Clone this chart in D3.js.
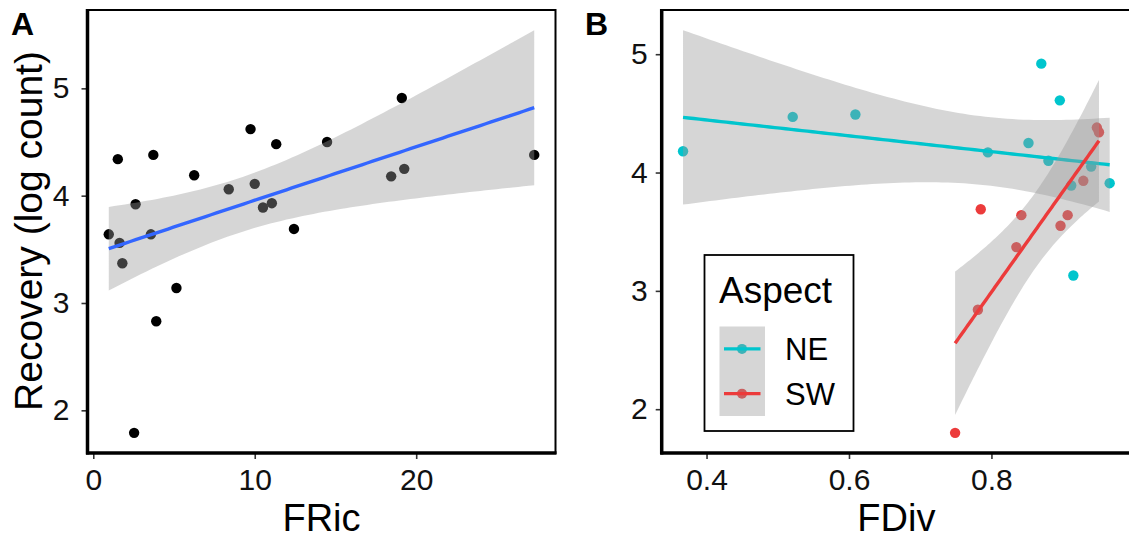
<!DOCTYPE html>
<html>
<head>
<meta charset="utf-8">
<script src="https://cdn.jsdelivr.net/npm/d3@7/dist/d3.min.js"></script>
<style>
  html, body { margin: 0; padding: 0; background: #ffffff; }
  svg { display: block; font-family: "Liberation Sans", Arial, sans-serif; }
</style>
</head>
<body>
<svg id="chart" width="1129" height="542"></svg>
<script>
// ---- data: panel A (functional richness) ----
const fricX = [0.96, 1.52, 1.63, 1.80, 2.62, 2.53, 3.57, 3.72, 3.90, 5.15, 6.25, 8.39,
               9.74, 10.0, 10.51, 11.06, 11.33, 12.43, 14.48, 18.45, 19.11, 19.26, 27.31];
const fricY = [3.64, 4.34, 3.56, 3.37, 3.92, 1.79, 3.64, 4.38, 2.83, 3.14, 4.19, 4.06,
               4.62, 4.11, 3.89, 3.93, 4.48, 3.69, 4.50, 4.18, 4.91, 4.25, 4.38];

// ---- data: panel B (functional divergence by aspect) ----
const aspects = ["NE", "SW"];
const fdivNE_X = [0.367, 0.521, 0.609, 0.795, 0.852, 0.870, 0.896, 0.880, 0.940, 0.912, 0.966, 0.915];
const fdivNE_Y = [4.18, 4.47, 4.49, 4.17, 4.25, 4.92, 4.61, 4.10, 4.05, 3.89, 3.91, 3.13];
const fdivSW_X = [0.785, 0.842, 0.835, 0.897, 0.907, 0.929, 0.948, 0.951, 0.781, 0.749];
const fdivSW_Y = [3.69, 3.64, 3.37, 3.55, 3.64, 3.93, 4.38, 4.34, 2.84, 1.80];

// ---- tick labels ----
const ticksA_x = [0, 10, 20];
const ticksA_y = [2, 3, 4, 5];
const ticksB_x = [0.4, 0.6, 0.8];
const ticksB_y = [2, 3, 4, 5];

const aspectColor = { NE: "#00C5CD", SW: "#EC3B3B" };
const ribbonFill = "#999999";   // grey60, drawn at alpha 0.4

// ---- stats helpers: linear model with 95% confidence band ----
function lgamma(x) {
  const c = [0.99999999999980993, 676.5203681218851, -1259.1392167224028, 771.32342877765313,
    -176.61502916214059, 12.507343278686905, -0.13857109526572012, 9.9843695780195716e-6, 1.5056327351493116e-7];
  if (x < 0.5) return Math.log(Math.PI / Math.sin(Math.PI * x)) - lgamma(1 - x);
  x -= 1;
  let a = c[0];
  const t = x + 7.5;
  for (let i = 1; i < 9; i++) a += c[i] / (x + i);
  return 0.5 * Math.log(2 * Math.PI) + (x + 0.5) * Math.log(t) - t + Math.log(a);
}
function tDensity(t, df) {
  const k = Math.exp(lgamma((df + 1) / 2) - lgamma(df / 2)) / Math.sqrt(df * Math.PI);
  return k * Math.pow(1 + t * t / df, -(df + 1) / 2);
}
function tCdf(t, df) {
  const n = 400, h = t / n;
  let s = tDensity(0, df) + tDensity(t, df);
  for (let i = 1; i < n; i++) s += (i % 2 ? 4 : 2) * tDensity(i * h, df);
  return 0.5 + s * h / 3;
}
function qt(p, df) {
  let lo = 0, hi = 30;
  for (let i = 0; i < 60; i++) {
    const mid = (lo + hi) / 2;
    if (tCdf(mid, df) < p) lo = mid; else hi = mid;
  }
  return (lo + hi) / 2;
}
function lmSmooth(xs, ys, nOut = 80) {
  const n = xs.length;
  const mx = d3.mean(xs), my = d3.mean(ys);
  let sxx = 0, sxy = 0;
  for (let i = 0; i < n; i++) { sxx += (xs[i] - mx) ** 2; sxy += (xs[i] - mx) * (ys[i] - my); }
  const b = sxy / sxx, a = my - b * mx;
  let rss = 0;
  for (let i = 0; i < n; i++) rss += (ys[i] - a - b * xs[i]) ** 2;
  const s = Math.sqrt(rss / (n - 2));
  const tq = qt(0.975, n - 2);
  const [x0, x1] = d3.extent(xs);
  return d3.range(nOut).map(i => {
    const x = x0 + (x1 - x0) * i / (nOut - 1);
    const fit = a + b * x;
    const se = s * Math.sqrt(1 / n + (x - mx) ** 2 / sxx);
    return { x, fit, lo: fit - tq * se, hi: fit + tq * se };
  });
}
function expand(lo, hi, f = 0.05) { const d = (hi - lo) * f; return [lo - d, hi + d]; }

const svg = d3.select("#chart");
const H = { top: 10, bottom: 453 };

// ---- shared panel drawing ----
function drawPanel(opt) {
  const g = svg.append("g");
  const x = d3.scaleLinear().domain(opt.xDomain).range([opt.left, opt.right]);
  const y = d3.scaleLinear().domain(opt.yDomain).range([H.bottom, H.top]);

  // axes
  const ax = g.append("g").attr("transform", `translate(0,${H.bottom})`)
    .call(d3.axisBottom(x).tickValues(opt.xTicks).tickSize(6).tickPadding(10)
      .tickFormat(opt.xFormat));
  const ay = g.append("g").attr("transform", `translate(${opt.left},0)`)
    .call(d3.axisLeft(y).tickValues(opt.yTicks).tickSize(6).tickPadding(opt.yPad)
      .tickFormat(d3.format("d")));
  [ax, ay].forEach(a => {
    a.select(".domain").remove();
    a.selectAll(".tick line").attr("stroke", "#333333").attr("stroke-width", 1.6);
    a.selectAll(".tick text").attr("fill", "#111111").attr("font-size", 30)
      .attr("font-family", "Liberation Sans, Arial, sans-serif");
  });

  const plot = g.append("g");
  opt.layers(plot, x, y);

  // panel border, heavier on the axis sides
  g.append("rect").attr("x", opt.left).attr("y", H.top)
    .attr("width", opt.right - opt.left).attr("height", H.bottom - H.top)
    .attr("fill", "none").attr("stroke", "#000").attr("stroke-width", 2);
  g.append("line").attr("x1", opt.left).attr("x2", opt.left).attr("y1", H.top - 1).attr("y2", H.bottom + 1.5)
    .attr("stroke", "#000").attr("stroke-width", 3.5);
  g.append("line").attr("x1", opt.left - 1.5).attr("x2", opt.right + 1).attr("y1", H.bottom).attr("y2", H.bottom)
    .attr("stroke", "#000").attr("stroke-width", 3.5);

  // axis title and panel tag
  g.append("text").attr("x", (opt.left + opt.right) / 2).attr("y", 531)
    .attr("text-anchor", "middle").attr("font-size", 38).attr("fill", "#000").text(opt.xTitle);
  g.append("text").attr("x", opt.tagX).attr("y", 35).attr("font-size", 32)
    .attr("font-weight", "bold").attr("fill", "#000").text(opt.tag);
  return { g, x, y };
}

function drawRibbon(sel, fitData, x, y) {
  sel.append("path").datum(fitData)
    .attr("d", d3.area().x(d => x(d.x)).y0(d => y(d.lo)).y1(d => y(d.hi)))
    .attr("fill", ribbonFill).attr("fill-opacity", 0.4);
}
function drawFitLine(sel, fitData, x, y, color) {
  sel.append("path").datum(fitData)
    .attr("d", d3.line().x(d => x(d.x)).y(d => y(d.fit)))
    .attr("fill", "none").attr("stroke", color).attr("stroke-width", 3.4);
}

// ---- panel A ----
const fitA = lmSmooth(fricX, fricY);
const yA = expand(Math.min(d3.min(fricY), d3.min(fitA, d => d.lo)), Math.max(d3.max(fricY), d3.max(fitA, d => d.hi)));
drawPanel({
  left: 87.5, right: 555.5, tag: "A", tagX: 11,
  xDomain: expand(...d3.extent(fricX)), yDomain: yA,
  xTicks: ticksA_x, yTicks: ticksA_y, yPad: 12, xFormat: d3.format("d"),
  xTitle: "FRic",
  layers: (p, x, y) => {
    p.selectAll("circle").data(fricX.map((v, i) => [v, fricY[i]])).join("circle")
      .attr("cx", d => x(d[0])).attr("cy", d => y(d[1])).attr("r", 5.2).attr("fill", "#000");
    drawRibbon(p, fitA, x, y);
    drawFitLine(p, fitA, x, y, "#3366FF");
  }
});

// y title for panel A
svg.append("text").attr("transform", "translate(42,231) rotate(-90)")
  .attr("text-anchor", "middle").attr("font-size", 39).attr("fill", "#000")
  .text("Recovery (log count)");

// ---- panel B ----
const groupsB = [
  { key: "NE", xs: fdivNE_X, ys: fdivNE_Y },
  { key: "SW", xs: fdivSW_X, ys: fdivSW_Y }
];
groupsB.forEach(gr => { gr.fit = lmSmooth(gr.xs, gr.ys); });
const allBX = fdivNE_X.concat(fdivSW_X);
const allBYlo = d3.min(groupsB, gr => Math.min(d3.min(gr.ys), d3.min(gr.fit, d => d.lo)));
const allBYhi = d3.max(groupsB, gr => Math.max(d3.max(gr.ys), d3.max(gr.fit, d => d.hi)));
drawPanel({
  left: 661.7, right: 1131, tag: "B", tagX: 585,
  xDomain: expand(...d3.extent(allBX)), yDomain: expand(allBYlo, allBYhi),
  xTicks: ticksB_x, yTicks: ticksB_y, yPad: 8, xFormat: d3.format(".1f"),
  xTitle: "FDiv",
  layers: (p, x, y) => {
    groupsB.forEach(gr => {
      p.append("g").selectAll("circle").data(gr.xs.map((v, i) => [v, gr.ys[i]])).join("circle")
        .attr("cx", d => x(d[0])).attr("cy", d => y(d[1])).attr("r", 5.2)
        .attr("fill", aspectColor[gr.key]);
    });
    groupsB.forEach(gr => {
      drawRibbon(p, gr.fit, x, y);
      drawFitLine(p, gr.fit, x, y, aspectColor[gr.key]);
    });
  }
});

// ---- legend ----
const lg = svg.append("g");
lg.append("rect").attr("x", 704.5).attr("y", 255).attr("width", 149).attr("height", 176)
  .attr("fill", "#fff").attr("stroke", "#000").attr("stroke-width", 1.8);
lg.append("text").attr("x", 719).attr("y", 303).attr("font-size", 37).attr("fill", "#000").text("Aspect");
const keyY = d3.scaleBand().domain(aspects).range([326.5, 416]);
aspects.forEach(k => {
  const cy = keyY(k) + keyY.bandwidth() / 2;
  lg.append("circle").attr("cx", 742).attr("cy", cy).attr("r", 5).attr("fill", aspectColor[k]);
});
lg.append("rect").attr("x", 719.5).attr("y", 326.5).attr("width", 45.5).attr("height", 89.5)
  .attr("fill", ribbonFill).attr("fill-opacity", 0.4);
aspects.forEach(k => {
  const cy = keyY(k) + keyY.bandwidth() / 2;
  lg.append("line").attr("x1", 724).attr("x2", 760.5).attr("y1", cy).attr("y2", cy)
    .attr("stroke", aspectColor[k]).attr("stroke-width", 3.4);
  lg.append("text").attr("x", 785).attr("y", cy + 11).attr("font-size", 31).attr("fill", "#000").text(k);
});
</script>
</body>
</html>
